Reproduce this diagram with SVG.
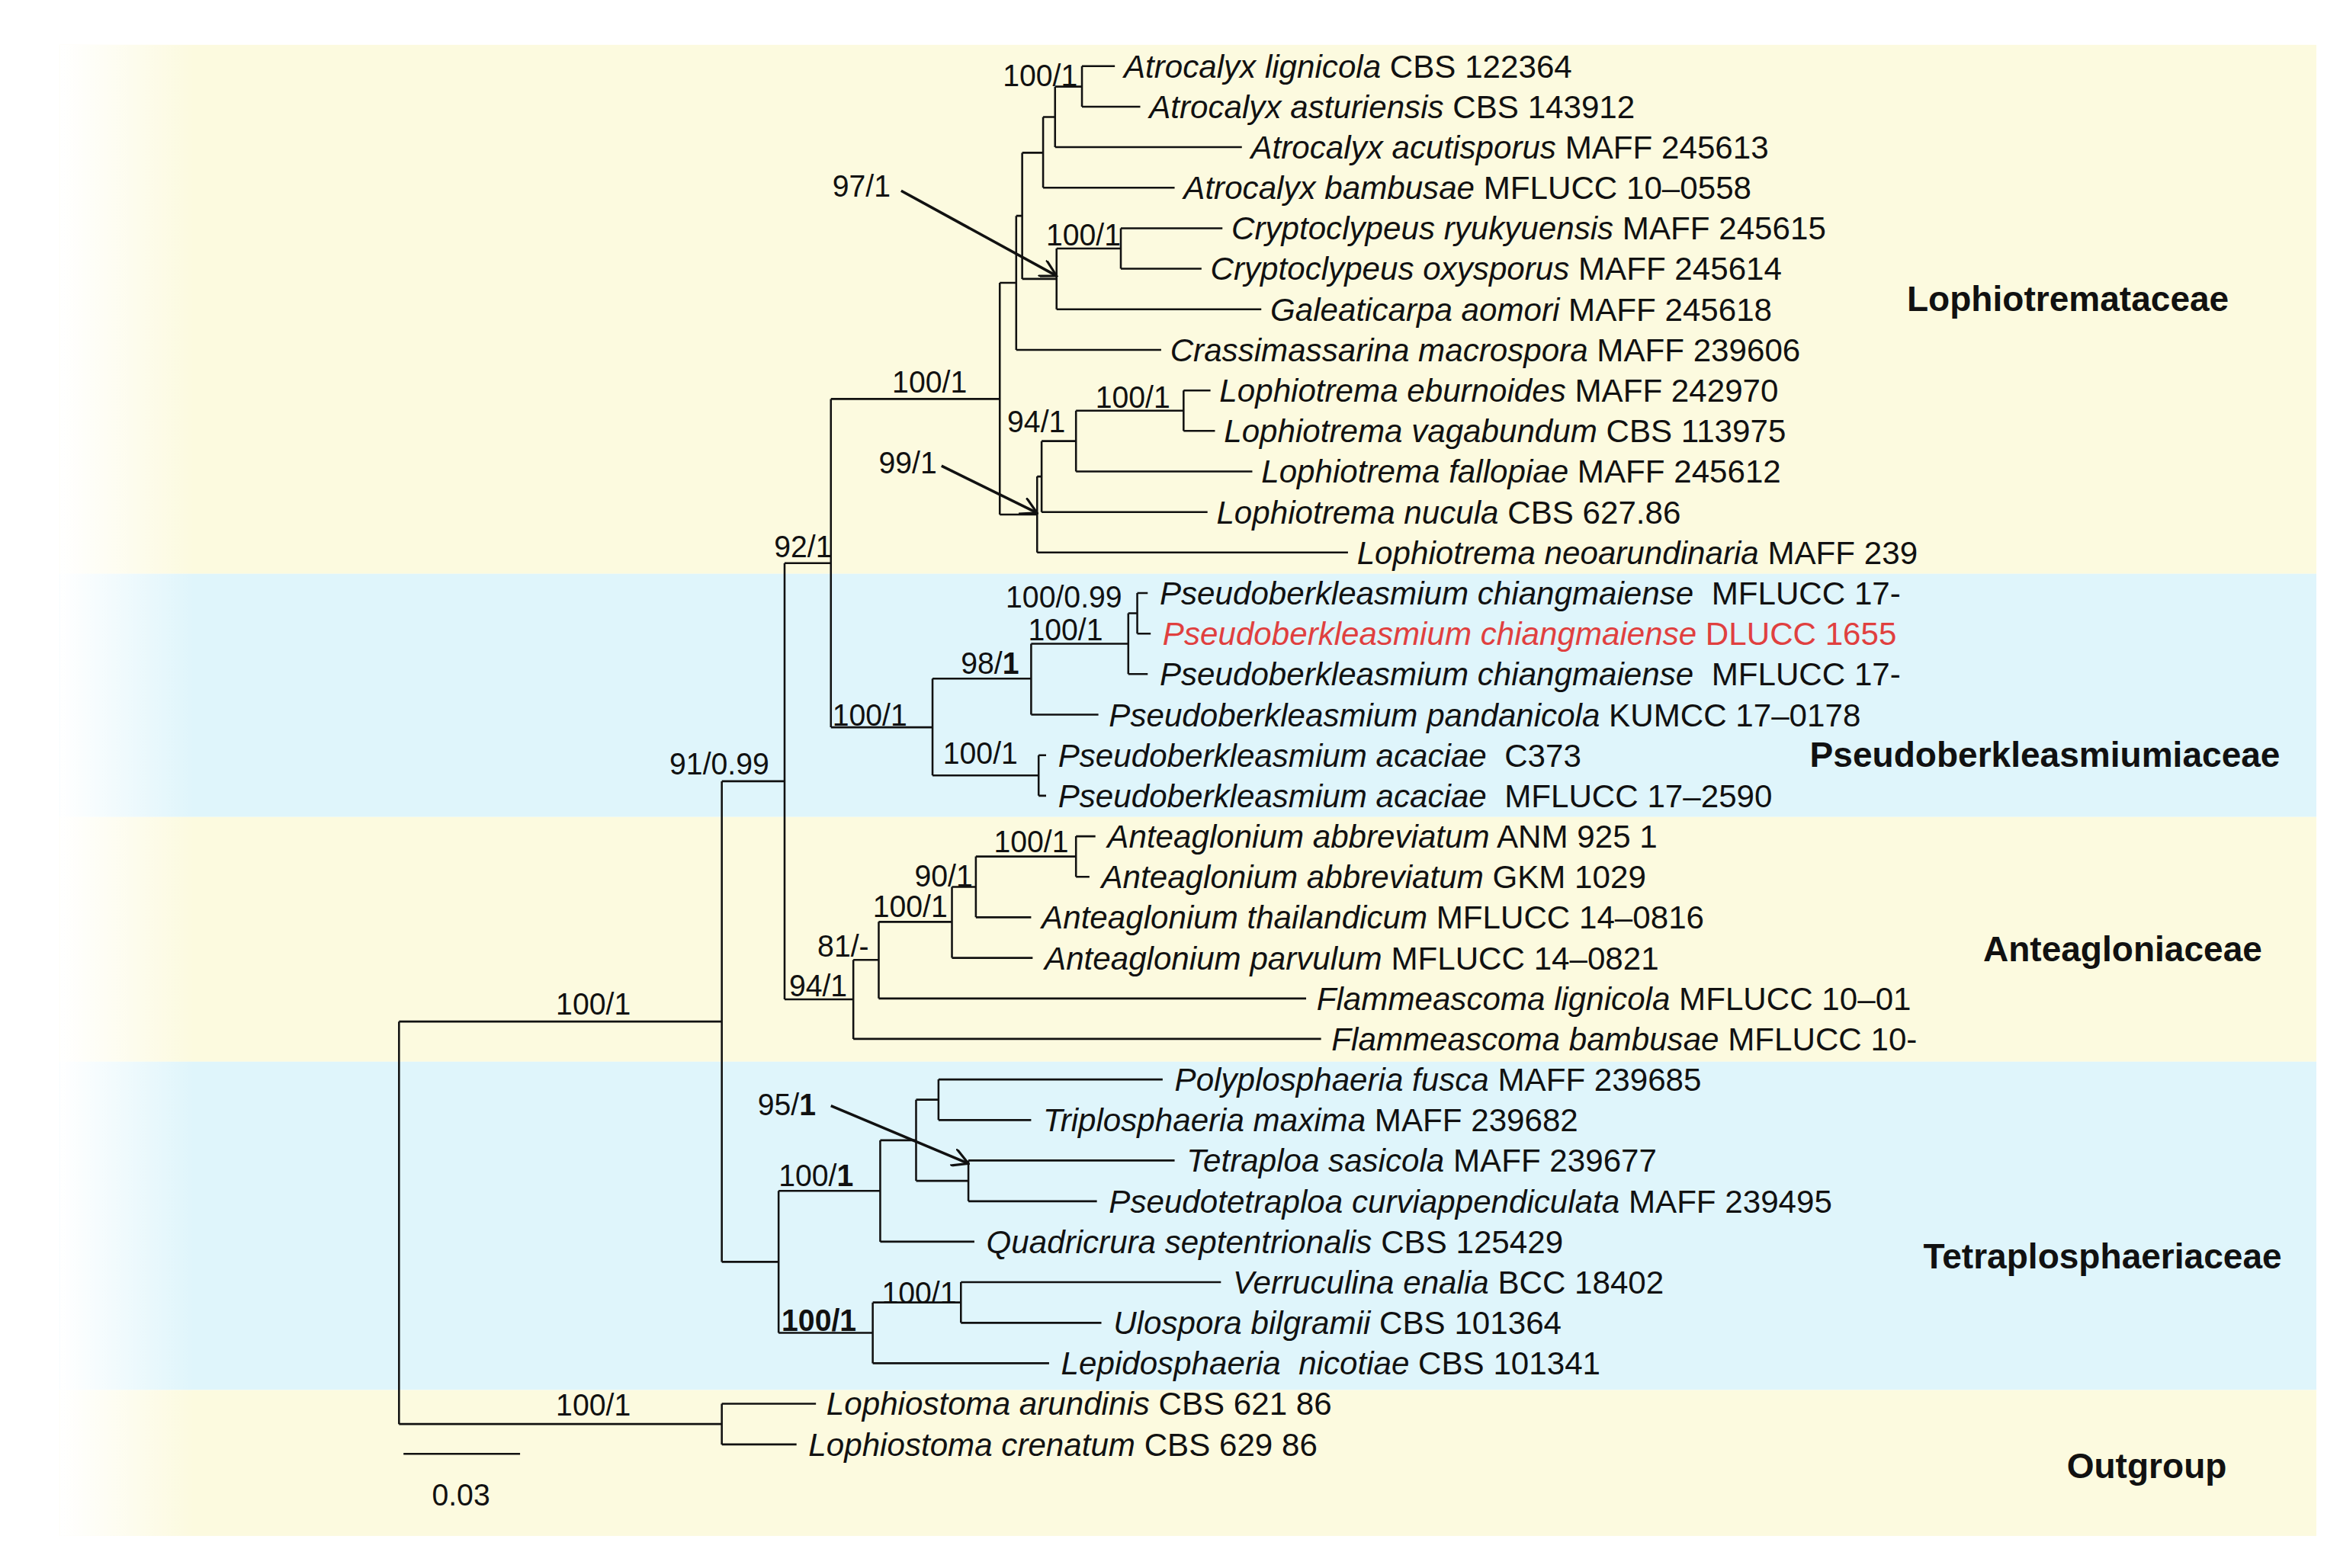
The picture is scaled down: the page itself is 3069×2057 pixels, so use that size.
<svg xmlns="http://www.w3.org/2000/svg" width="3069" height="2057" viewBox="0 0 3069 2057">
<defs>
<style>
.t{font-family:"Liberation Sans",Arial,sans-serif;font-size:21.5px;fill:#111}
.i{font-style:italic}
.s{font-family:"Liberation Sans",Arial,sans-serif;font-size:20px;fill:#111}
.f{font-family:"Liberation Sans",Arial,sans-serif;font-size:23.5px;font-weight:bold;fill:#111}
.br{fill:none;stroke:#111;stroke-width:1.3}
.ar{fill:none;stroke:#111;stroke-width:1.8}
.red{fill:#e0403f}
</style>
<linearGradient id="fade" x1="0" y1="0" x2="1" y2="0">
<stop offset="0" stop-color="#fff" stop-opacity="1"/>
<stop offset="1" stop-color="#fff" stop-opacity="0"/>
</linearGradient>
<marker id="ah" viewBox="0 0 12 12" refX="11" refY="6" markerWidth="12" markerHeight="12" markerUnits="userSpaceOnUse" orient="auto">
<path d="M0 0 L11 6 L0 12" fill="none" stroke="#111" stroke-width="1.6"/>
</marker>
</defs>
<rect width="3069" height="2057" fill="#fff"/>
<g transform="translate(0,-5) scale(1.96,1.994)">
<g id="bands">
<rect x="40" y="32" width="1510" height="348" fill="#fcfadf"/>
<rect x="40" y="380" width="1510" height="160" fill="#dff5fb"/>
<rect x="40" y="540" width="1510" height="161" fill="#fcfadf"/>
<rect x="40" y="701" width="1510" height="216" fill="#dff5fb"/>
<rect x="40" y="917" width="1510" height="96" fill="#fcfadf"/>
<rect x="40" y="32" width="90" height="981" fill="url(#fade)"/>
</g>
<g id="connectors">
<path class="br" d="M267 674.6V939.4M267 674.6H483M267 939.4H483
M483 926V952.8M483 926H546M483 952.8H533
M483 516.5V832.7M483 516.5H525M483 832.7H521
M525 373V660M525 373H556M525 660H571
M556 265V481M556 265H669M556 481H624
M669 188.6V341M669 188.6H680M669 341H694
M680 144.5V232.7M680 144.5H684M680 232.7H777
M684 103V186M684 103H698M684 186H707
M698 79.5V126M698 79.5H706M698 126H786
M706 59.5V99.3M706 59.5H724M706 99.3H831
M724 46V72.7M724 46H746M724 72.7H763
M707 166V206M707 166H750M707 206H844
M750 152.7V179.3M750 152.7H818M750 179.3H804
M694 316V366M694 316H697M694 366H902
M697 292.7V339.4M697 292.7H720M697 339.4H808
M720 272.7V312.7M720 272.7H792M720 312.7H838
M792 259.4V286M792 259.4H810M792 286H813
M624 449V512.7M624 449H690M624 512.7H695
M690 426V472.7M690 426H755M690 472.7H735
M755 406V446M755 406H761M755 446H768
M761 392.7V419.4M761 392.7H768M761 419.4H770
M695 499.4V526M695 499.4H700M695 526H700
M571 634V686M571 634H588M571 686H884
M588 609V659.4M588 609H637M588 659.4H874
M637 586V632.7M637 586H653M637 632.7H691
M653 566V606M653 566H720M653 606H690
M720 552.7V579.4M720 552.7H733M720 579.4H729
M521 786V879.4M521 786H589M521 879.4H584
M589 752.7V819.4M589 752.7H613M589 819.4H652
M613 726V779.4M613 726H628M613 779.4H648
M628 712.7V739.4M628 712.7H778M628 739.4H690
M648 766V792.8M648 766H786M648 792.8H734
M584 859.4V899.4M584 859.4H643M584 899.4H702
M643 846V872.8M643 846H817M643 872.8H737"/>
<line class="ar" x1="603" y1="128" x2="707" y2="184" marker-end="url(#ah)"/>
<line class="ar" x1="630" y1="309" x2="694" y2="340" marker-end="url(#ah)"/>
<line class="ar" x1="556" y1="730" x2="648" y2="768" marker-end="url(#ah)"/>
<path class="br" d="M270 959H348"/>
</g>
<g id="support">
<text class="s" x="671" y="59">100/1</text>
<text class="s" x="557" y="132">97/1</text>
<text class="s" x="700" y="164">100/1</text>
<text class="s" x="597" y="261">100/1</text>
<text class="s" x="733" y="271">100/1</text>
<text class="s" x="674" y="287">94/1</text>
<text class="s" x="588" y="314">99/1</text>
<text class="s" x="518" y="369">92/1</text>
<text class="s" x="673" y="402">100/0.99</text>
<text class="s" x="688" y="424">100/1</text>
<text class="s" x="643" y="446">98/<tspan font-weight="bold">1</tspan></text>
<text class="s" x="557" y="480">100/1</text>
<text class="s" x="631" y="505">100/1</text>
<text class="s" x="448" y="512">91/0.99</text>
<text class="s" x="665" y="563">100/1</text>
<text class="s" x="612" y="586">90/1</text>
<text class="s" x="584" y="606">100/1</text>
<text class="s" x="547" y="632">81/-</text>
<text class="s" x="528" y="658">94/1</text>
<text class="s" x="372" y="670">100/1</text>
<text class="s" x="507" y="736">95/<tspan font-weight="bold">1</tspan></text>
<text class="s" x="521" y="783">100/<tspan font-weight="bold">1</tspan></text>
<text class="s" x="590" y="860">100/1</text>
<text class="s" x="523" y="878" font-weight="bold">100/1</text>
<text class="s" x="372" y="934">100/1</text>
<text class="s" x="289" y="993" font-size="16">0.03</text>
</g>
<g id="families">
<text class="f" x="1276" y="207">Lophiotremataceae</text>
<text class="f" x="1211" y="507">Pseudoberkleasmiumiaceae</text>
<text class="f" x="1327" y="635">Anteagloniaceae</text>
<text class="f" x="1287" y="837">Tetraplosphaeriaceae</text>
<text class="f" x="1383" y="975">Outgroup</text>
</g>
<g id="leaves">
<g id="n0"><text class="t" x="752" y="53.5"><tspan class="i">Atrocalyx lignicola</tspan> CBS 122364</text></g>
<g id="n1"><text class="t" x="769" y="80.2"><tspan class="i">Atrocalyx asturiensis</tspan> CBS 143912</text></g>
<g id="n2"><text class="t" x="837" y="106.8"><tspan class="i">Atrocalyx acutisporus</tspan> MAFF 245613</text></g>
<g id="n3"><text class="t" x="792" y="133.5"><tspan class="i">Atrocalyx bambusae</tspan> MFLUCC 10–0558</text></g>
<g id="n4"><text class="t" x="824" y="160.2"><tspan class="i">Cryptoclypeus ryukyuensis</tspan> MAFF 245615</text></g>
<g id="n5"><text class="t" x="810" y="186.8"><tspan class="i">Cryptoclypeus oxysporus</tspan> MAFF 245614</text></g>
<g id="n6"><text class="t" x="850" y="213.5"><tspan class="i">Galeaticarpa aomori</tspan> MAFF 245618</text></g>
<g id="n7"><text class="t" x="783" y="240.2"><tspan class="i">Crassimassarina macrospora</tspan> MAFF 239606</text></g>
<g id="n8"><text class="t" x="816" y="266.9"><tspan class="i">Lophiotrema eburnoides</tspan> MAFF 242970</text></g>
<g id="n9"><text class="t" x="819" y="293.5"><tspan class="i">Lophiotrema vagabundum</tspan> CBS 113975</text></g>
<g id="n10"><text class="t" x="844" y="320.2"><tspan class="i">Lophiotrema fallopiae</tspan> MAFF 245612</text></g>
<g id="n11"><text class="t" x="814" y="346.9"><tspan class="i">Lophiotrema nucula</tspan> CBS 627.86</text></g>
<g id="n12"><text class="t" x="908" y="373.5"><tspan class="i">Lophiotrema neoarundinaria</tspan> MAFF 239</text></g>
<g id="n13"><text class="t" x="776" y="400.2" xml:space="preserve"><tspan class="i">Pseudoberkleasmium chiangmaiense</tspan>  MFLUCC 17-</text></g>
<g id="n14"><text class="t red" x="778" y="426.9"><tspan class="i">Pseudoberkleasmium chiangmaiense</tspan> DLUCC 1655</text></g>
<g id="n15"><text class="t" x="776" y="453.5" xml:space="preserve"><tspan class="i">Pseudoberkleasmium chiangmaiense</tspan>  MFLUCC 17-</text></g>
<g id="n16"><text class="t" x="742" y="480.2"><tspan class="i">Pseudoberkleasmium pandanicola</tspan> KUMCC 17–0178</text></g>
<g id="n17"><text class="t" x="708" y="506.9" xml:space="preserve"><tspan class="i">Pseudoberkleasmium acaciae</tspan>  C373</text></g>
<g id="n18"><text class="t" x="708" y="533.5" xml:space="preserve"><tspan class="i">Pseudoberkleasmium acaciae</tspan>  MFLUCC 17–2590</text></g>
<g id="n19"><text class="t" x="741" y="560.2"><tspan class="i">Anteaglonium abbreviatum</tspan> ANM 925 1</text></g>
<g id="n20"><text class="t" x="737" y="586.9"><tspan class="i">Anteaglonium abbreviatum</tspan> GKM 1029</text></g>
<g id="n21"><text class="t" x="697" y="613.5"><tspan class="i">Anteaglonium thailandicum</tspan> MFLUCC 14–0816</text></g>
<g id="n22"><text class="t" x="699" y="640.2"><tspan class="i">Anteaglonium parvulum</tspan> MFLUCC 14–0821</text></g>
<g id="n23"><text class="t" x="881" y="666.9"><tspan class="i">Flammeascoma lignicola</tspan> MFLUCC 10–01</text></g>
<g id="n24"><text class="t" x="891" y="693.5"><tspan class="i">Flammeascoma bambusae</tspan> MFLUCC 10-</text></g>
<g id="n25"><text class="t" x="786" y="720.2"><tspan class="i">Polyplosphaeria fusca</tspan> MAFF 239685</text></g>
<g id="n26"><text class="t" x="698" y="746.9"><tspan class="i">Triplosphaeria maxima</tspan> MAFF 239682</text></g>
<g id="n27"><text class="t" x="794" y="773.5"><tspan class="i">Tetraploa sasicola</tspan> MAFF 239677</text></g>
<g id="n28"><text class="t" x="742" y="800.3"><tspan class="i">Pseudotetraploa curviappendiculata</tspan> MAFF 239495</text></g>
<g id="n29"><text class="t" x="660" y="826.9"><tspan class="i">Quadricrura septentrionalis</tspan> CBS 125429</text></g>
<g id="n30"><text class="t" x="825" y="853.5"><tspan class="i">Verruculina enalia</tspan> BCC 18402</text></g>
<g id="n31"><text class="t" x="745" y="880.3"><tspan class="i">Ulospora bilgramii</tspan> CBS 101364</text></g>
<g id="n32"><text class="t" x="710" y="906.9" xml:space="preserve"><tspan class="i">Lepidosphaeria  nicotiae</tspan> CBS 101341</text></g>
<g id="n33"><text class="t" x="553" y="933.5"><tspan class="i">Lophiostoma arundinis</tspan> CBS 621 86</text></g>
<g id="n34"><text class="t" x="541" y="960.3"><tspan class="i">Lophiostoma crenatum</tspan> CBS 629 86</text></g>
</g>
</g>
</svg>
